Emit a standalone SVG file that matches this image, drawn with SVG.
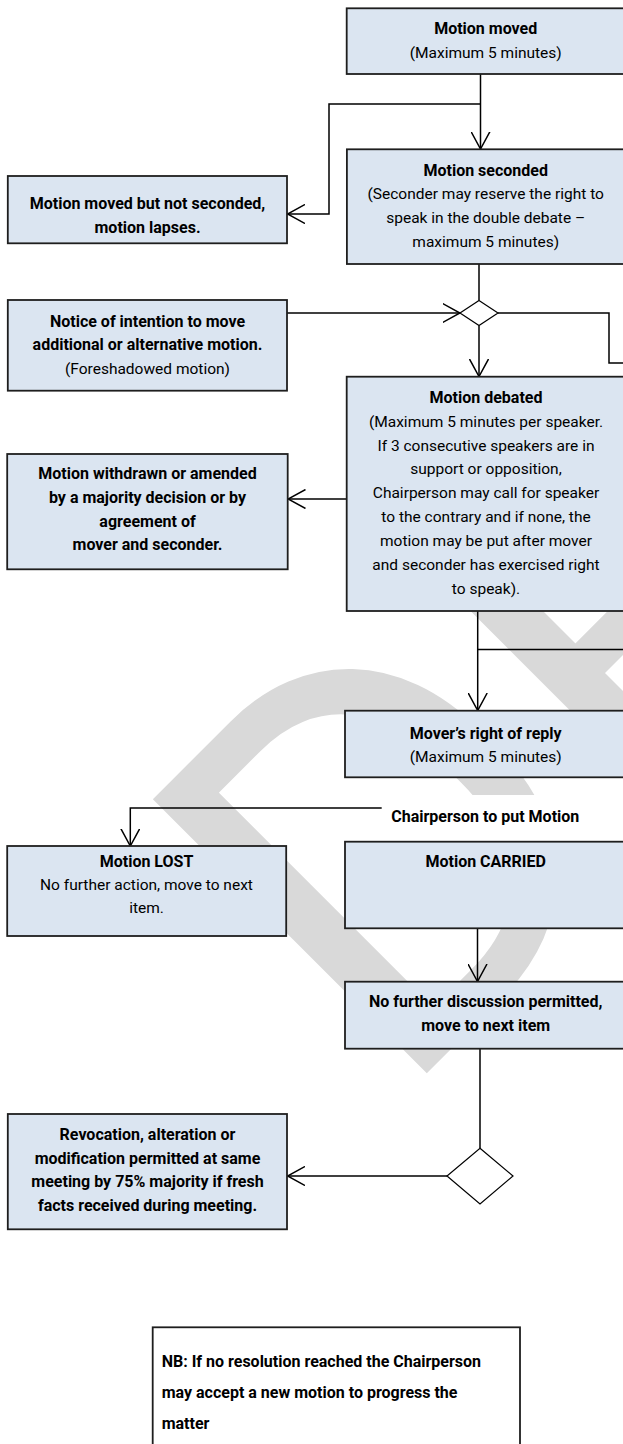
<svg xmlns="http://www.w3.org/2000/svg" width="623" height="1444" viewBox="0 0 623 1444">
  <style>
    .box { fill: #dbe5f1; stroke: #1e1e1e; stroke-width: 1.8; }
    .nb { fill: #ffffff; stroke: #1e1e1e; stroke-width: 1.8; }
    .dia { fill: #ffffff; stroke: #000; stroke-width: 1.2; }
    .ln { fill: none; stroke: #000; stroke-width: 1.5; }
    .arr { marker-end: url(#vhead); }
    text { font-family: Roboto, "Open Sans", "Liberation Sans", sans-serif; fill: #000; }
    .c { text-anchor: middle; font-size: 15.5px; }
    .b { font-weight: bold; font-size: 16px; }
    .wm { font-size: 545px; fill: #d9d9d9; }
  </style>
  <defs>
    <marker id="vhead" viewBox="0 0 18 20" refX="17.5" refY="10" markerWidth="18" markerHeight="20" markerUnits="userSpaceOnUse" orient="auto">
      <path d="M0,0.5 L17.5,10 L0,19.5" fill="none" stroke="#000" stroke-width="1.5"/>
    </marker>
  </defs>

  <rect x="0" y="0" width="623" height="1444" fill="#ffffff"/>

  <!-- background watermark, behind every box -->
  <text class="wm" transform="translate(395,1105) rotate(-45)">DRAFT</text>

  <!-- connectors -->
  <g id="connectors">
    <path class="ln arr" d="M480.5,74 V149"/>
    <path class="ln arr" d="M480.5,104 H329 V214 H287.5"/>
    <path class="ln" d="M479,264 V300.5"/>
    <path class="ln arr" d="M287,313 H460"/>
    <path class="ln" d="M498,313 H609 V363 H626"/>
    <path class="ln arr" d="M479,325.5 V376.5"/>
    <path class="ln arr" d="M346.5,499 H288"/>
    <path class="ln arr" d="M477.7,611 V710.5"/>
    <path class="ln" d="M477.7,649.5 H626"/>
    <path class="ln arr" d="M477.5,927 V981.5"/>
    <path class="ln" d="M480,1049 V1148"/>
    <path class="ln arr" d="M447,1176 H287.5"/>
  </g>

  <g id="motion-moved">
    <rect class="box" x="346.7" y="8.3" width="280" height="65.7"/>
    <text class="c b" x="485.7" y="34.3">Motion moved</text>
    <text class="c" x="485.7" y="58.3">(Maximum 5 minutes)</text>
  </g>

  <g id="not-seconded">
    <rect class="box" x="7.8" y="176" width="279.2" height="67.3"/>
    <text class="c b" x="147.5" y="209.3">Motion moved but not seconded,</text>
    <text class="c b" x="147.5" y="232.7">motion lapses.</text>
  </g>

  <g id="motion-seconded">
    <rect class="box" x="346.9" y="149.3" width="280" height="114.7"/>
    <text class="c b" x="485.7" y="175.5">Motion seconded</text>
    <text class="c" x="485.7" y="199.3">(Seconder may reserve the right to</text>
    <text class="c" x="485.7" y="223.1">speak in the double debate –</text>
    <text class="c" x="485.7" y="246.9">maximum 5 minutes)</text>
  </g>

  <g id="split-1">
    <polygon class="dia" points="479,300.5 498,313 479,325.5 460,313"/>
  </g>

  <g id="notice">
    <rect class="box" x="7.8" y="300" width="279.2" height="90.7"/>
    <text class="c b" x="147.5" y="326.5">Notice of intention to move</text>
    <text class="c b" x="147.5" y="350.3">additional or alternative motion.</text>
    <text class="c" x="147.5" y="374">(Foreshadowed motion)</text>
  </g>

  <g id="motion-debated">
    <rect class="box" x="346.7" y="376.7" width="280" height="234.3"/>
    <text class="c b" x="486" y="402.7">Motion debated</text>
    <text class="c" x="486" y="426.6">(Maximum 5 minutes per speaker.</text>
    <text class="c" x="486" y="450.5">If 3 consecutive speakers are in</text>
    <text class="c" x="486" y="474.4">support or opposition,</text>
    <text class="c" x="486" y="498.3">Chairperson may call for speaker</text>
    <text class="c" x="486" y="522.2">to the contrary and if none, the</text>
    <text class="c" x="486" y="546.1">motion may be put after mover</text>
    <text class="c" x="486" y="570">and seconder has exercised right</text>
    <text class="c" x="486" y="593.9">to speak).</text>
  </g>

  <g id="withdrawn">
    <rect class="box" x="7.2" y="454" width="280.5" height="115.3"/>
    <text class="c b" x="147.5" y="479.3">Motion withdrawn or amended</text>
    <text class="c b" x="147.5" y="503">by a majority decision or by</text>
    <text class="c b" x="147.5" y="526.7">agreement of</text>
    <text class="c b" x="147.5" y="550.3">mover and seconder.</text>
  </g>

  <g id="right-of-reply">
    <rect class="box" x="345" y="710.7" width="282" height="66.6"/>
    <text class="c b" x="485.7" y="738.5">Mover’s right of reply</text>
    <text class="c" x="485.7" y="761.5">(Maximum 5 minutes)</text>
  </g>

  <g id="put-motion">
    <rect x="345" y="795" width="282" height="46.7" fill="#ffffff"/>
    <path class="ln arr" d="M381.7,808 H130.3 V846"/>
    <text class="c b" x="485.3" y="821.7">Chairperson to put Motion</text>
  </g>

  <g id="motion-lost">
    <rect class="box" x="7.2" y="846" width="279" height="90"/>
    <text class="c b" x="146.5" y="866.7">Motion LOST</text>
    <text class="c" x="146.5" y="890">No further action, move to next</text>
    <text class="c" x="146.5" y="913.3">item.</text>
  </g>

  <g id="motion-carried">
    <rect class="box" x="345" y="841.7" width="282" height="86.6"/>
    <text class="c b" x="485.7" y="866.7">Motion CARRIED</text>
  </g>

  <g id="no-discussion">
    <rect class="box" x="345" y="981.7" width="282" height="67"/>
    <text class="c b" x="485.7" y="1007.3">No further discussion permitted,</text>
    <text class="c b" x="485.7" y="1031.3">move to next item</text>
  </g>

  <g id="split-2">
    <polygon class="dia" points="480,1148.3 513,1176 480,1204 447,1176"/>
  </g>

  <g id="revocation">
    <rect class="box" x="7.8" y="1114" width="279.2" height="115.3"/>
    <text class="c b" x="147.5" y="1140">Revocation, alteration or</text>
    <text class="c b" x="147.5" y="1163.5">modification permitted at same</text>
    <text class="c b" x="147.5" y="1187">meeting by 75% majority if fresh</text>
    <text class="c b" x="147.5" y="1210.5">facts received during meeting.</text>
  </g>

  <g id="note">
    <rect class="nb" x="152.7" y="1327.3" width="367.3" height="130"/>
    <text class="b" x="161.7" y="1367.3">NB: If no resolution reached the Chairperson</text>
    <text class="b" x="161.7" y="1398.3">may accept a new motion to progress the</text>
    <text class="b" x="161.7" y="1429">matter</text>
  </g>
</svg>
